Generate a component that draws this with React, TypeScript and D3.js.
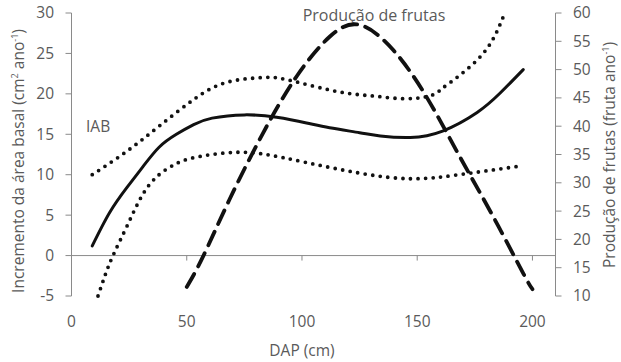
import React from "react";
import { scaleLinear, line, curveNatural, range } from "d3";

// IAB (incremento da área basal) - eixo esquerdo
const iabDap = [9, 16.5, 24, 31, 38, 45.5, 53, 61, 75, 89, 102, 112, 125, 134, 147, 161, 176, 186, 196];
const iabVal = [1.2, 5.3, 8.4, 11.0, 13.4, 15.0, 16.2, 17.0, 17.4, 17.1, 16.4, 15.8, 15.2, 14.8, 14.6, 15.4, 17.7, 20.1, 23.0];

// limites do intervalo (pontilhado)
const upperDap = [9, 24, 38, 53, 67, 82, 91, 105, 119, 132, 145, 156, 161, 168, 180, 188];
const upperVal = [10.0, 12.9, 16.0, 19.3, 21.4, 22.0, 21.9, 20.95, 20.1, 19.7, 19.4, 19.8, 20.7, 22.2, 25.5, 30.0];

const lowerDap = [11.5, 14.5, 18, 24, 31, 38, 45, 53, 67, 82, 102, 125, 147, 168, 193];
const lowerVal = [-5, -2.5, 0, 3.6, 7.6, 10.0, 11.3, 12.1, 12.7, 12.6, 11.5, 10.2, 9.5, 10.0, 11.0];

// produção de frutas - eixo direito
const fruitDap = [50, 57, 68.5, 83, 97.5, 112, 125, 139.5, 154, 168.5, 183, 196, 200];
const fruitVal = [11.6, 16.9, 27.0, 38.7, 48.7, 55.8, 57.9, 53.5, 45.2, 34.6, 24.0, 14.0, 11.2];

const xTicks = [0, 50, 100, 150, 200];
const leftTicks = range(-5, 31, 5);
const rightTicks = range(10, 61, 5);

const axisColor = "#8a8a8a";
const textColor = "#5a5a5a";
const font = "'Open Sans', sans-serif";

export default function App() {
    const width = 621;
    const height = 362;

    const x = scaleLinear().domain([0, 210]).range([71.5, 555.5]);
    const yL = scaleLinear().domain([-5, 30]).range([296, 13]);
    const yR = scaleLinear().domain([10, 60]).range([296, 13]);

    const lineL = (xs: number[], ys: number[]) =>
        line<number>()
            .x((d, i) => x(xs[i]))
            .y(d => yL(d))
            .curve(curveNatural)(ys);

    const fruitPath = line<number>()
        .x((d, i) => x(fruitDap[i]))
        .y(d => yR(d))
        .curve(curveNatural)(fruitVal);

    const fs = 15.5;

    return (
        <svg
            width={width}
            height={height}
            style={{ position: "absolute", left: 0, top: 0, background: "#fff" }}
            fontFamily={font}
        >
            {/* eixo esquerdo */}
            <line x1={x(0)} x2={x(0)} y1={yL(30)} y2={yL(-5)} stroke={axisColor} strokeWidth={1} />
            {leftTicks.map(t => (
                <g key={"l" + t}>
                    <line x1={x(0) - 6} x2={x(0)} y1={yL(t)} y2={yL(t)} stroke={axisColor} />
                    <text x={54} y={yL(t)} dy="0.35em" textAnchor="end" fontSize={fs} fill={textColor}>
                        {t}
                    </text>
                </g>
            ))}

            {/* eixo direito */}
            <line x1={x(210)} x2={x(210)} y1={yR(60)} y2={yR(10)} stroke={axisColor} strokeWidth={1} />
            {rightTicks.map(t => (
                <g key={"r" + t}>
                    <line x1={x(210)} x2={x(210) + 6} y1={yR(t)} y2={yR(t)} stroke={axisColor} />
                    <text x={573} y={yR(t)} dy="0.35em" textAnchor="start" fontSize={fs} fill={textColor}>
                        {t}
                    </text>
                </g>
            ))}

            {/* eixo x em y = 0 */}
            <line x1={x(0)} x2={x(210)} y1={yL(0)} y2={yL(0)} stroke={axisColor} strokeWidth={1} />
            {xTicks.map(t => (
                <g key={"x" + t}>
                    <line x1={x(t)} x2={x(t)} y1={yL(0)} y2={yL(0) + 5} stroke={axisColor} />
                    <text x={x(t)} y={327} textAnchor="middle" fontSize={fs} fill={textColor}>
                        {t}
                    </text>
                </g>
            ))}

            {/* títulos */}
            <text x={302} y={356} textAnchor="middle" fontSize={fs} fill={textColor}>
                DAP (cm)
            </text>
            <text
                transform="translate(24,161) rotate(-90)"
                textAnchor="middle"
                fontSize={fs}
                fill={textColor}
            >
                Incremento da área basal (cm
                <tspan fontSize={9} dy={-6}>2</tspan>
                <tspan dy={6}> ano</tspan>
                <tspan fontSize={9} dy={-6}>-1</tspan>
                <tspan dy={6}>)</tspan>
            </text>
            <text
                transform="translate(615,155) rotate(-90)"
                textAnchor="middle"
                fontSize={fs}
                fill={textColor}
            >
                Produção de frutas (fruta ano
                <tspan fontSize={9} dy={-6}>-1</tspan>
                <tspan dy={6}>)</tspan>
            </text>

            <text x={86} y={132} fontSize={fs} fill={textColor}>IAB</text>
            <text x={374} y={21} textAnchor="middle" fontSize={16} fill={textColor}>
                Produção de frutas
            </text>

            {/* curvas */}
            <path
                d={lineL(upperDap, upperVal) || ""}
                fill="none"
                stroke="#111"
                strokeWidth={3.8}
                strokeDasharray="0 7.6"
                strokeLinecap="round"
            />
            <path
                d={lineL(lowerDap, lowerVal) || ""}
                fill="none"
                stroke="#111"
                strokeWidth={3.8}
                strokeDasharray="0 7.6"
                strokeLinecap="round"
            />
            <path
                d={lineL(iabDap, iabVal) || ""}
                fill="none"
                stroke="#111"
                strokeWidth={3}
                strokeLinecap="round"
            />
            <path
                d={fruitPath || ""}
                fill="none"
                stroke="#111"
                strokeWidth={3.8}
                strokeDasharray="15 8.5"
                strokeLinecap="round"
            />
        </svg>
    );
}
